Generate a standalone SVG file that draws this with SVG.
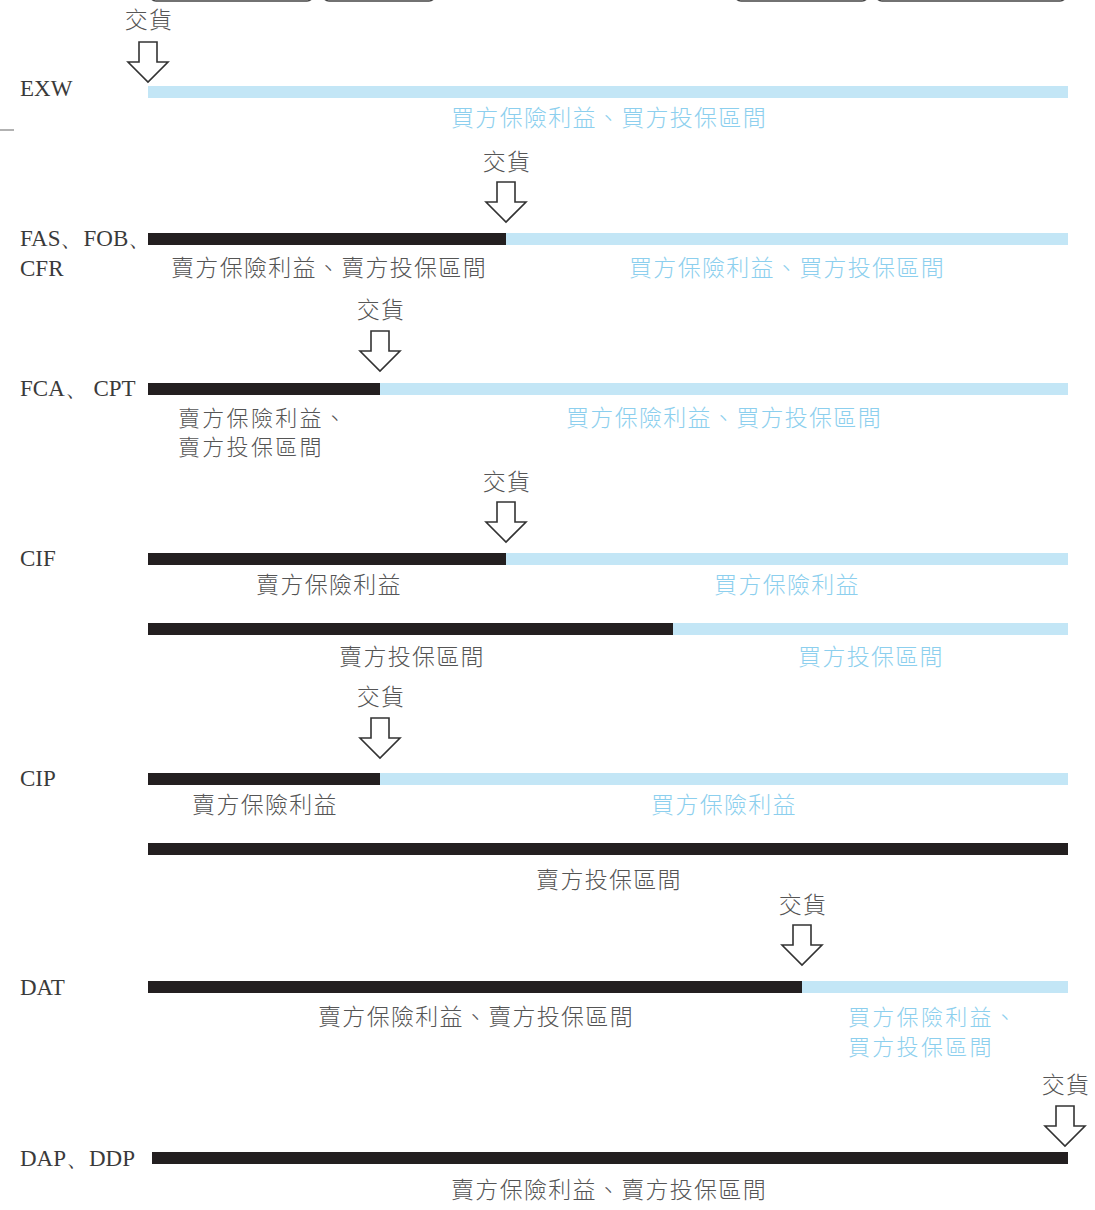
<svg xmlns="http://www.w3.org/2000/svg" width="1095" height="1210" viewBox="0 0 1095 1210">
<style>
.lbl{font-family:"Liberation Serif","Times New Roman",serif;font-size:23px;fill:#3a3a3a}
.cj{font-family:"Noto Sans CJK TC","Noto Sans CJK SC",sans-serif;font-size:23px;letter-spacing:1.3px;fill:#555;font-weight:300}
.two{font-size:22px;letter-spacing:2.3px}
.bl{fill:#8ccfee}
.mid{text-anchor:middle}
.sb{fill:#231f20}
.bb{fill:#c3e6f6}
.arr{fill:#fff;stroke:#333;stroke-width:1.6;stroke-linejoin:miter}
.box{fill:none;stroke:#444;stroke-width:1.6}
</style>
<defs>
<path id="arrow" class="arr" d="M-9,-40 H9 V-20 H20 L0,0 L-20,-20 H-9 Z"/>
</defs>
<g id="header">
<rect class="box" x="150" y="-30" width="163" height="31" rx="6"/>
<rect class="box" x="323" y="-30" width="112" height="31" rx="6"/>
<rect class="box" x="735" y="-30" width="133" height="31" rx="6"/>
<rect class="box" x="876" y="-30" width="190" height="31" rx="6"/>
<line x1="0" y1="130" x2="14" y2="130" stroke="#999" stroke-width="1.5"/>
</g>
<g id="connectors">
<use href="#arrow" x="148" y="82"/>
<use href="#arrow" x="506" y="222"/>
<use href="#arrow" x="380" y="371"/>
<use href="#arrow" x="506" y="542"/>
<use href="#arrow" x="380" y="758"/>
<use href="#arrow" x="802" y="965"/>
<use href="#arrow" x="1065" y="1146"/>
</g>
<g id="exw">
<text class="cj mid" x="149" y="28">交貨</text>
<text class="lbl" x="20" y="96">EXW</text>
<rect class="bb" x="148" y="86" width="920" height="12"/>
<text class="cj bl mid" x="609" y="126">買方保險利益、買方投保區間</text>
</g>
<g id="fas">
<text class="cj mid" x="507" y="170">交貨</text>
<text class="lbl" x="20" y="246">FAS、FOB、</text>
<text class="lbl" x="20" y="276">CFR</text>
<rect class="bb" x="506" y="233" width="562" height="12"/>
<rect class="sb" x="148" y="233" width="358" height="12"/>
<text class="cj mid" x="329" y="276">賣方保險利益、賣方投保區間</text>
<text class="cj bl mid" x="787" y="276">買方保險利益、買方投保區間</text>
</g>
<g id="fca">
<text class="cj mid" x="381" y="318">交貨</text>
<text class="lbl" x="20" y="396">FCA、 CPT</text>
<rect class="bb" x="380" y="383" width="688" height="12"/>
<rect class="sb" x="148" y="383" width="232" height="12"/>
<text class="cj two" x="178" y="426">賣方保險利益、</text>
<text class="cj two" x="178" y="455">賣方投保區間</text>
<text class="cj bl mid" x="724" y="426">買方保險利益、買方投保區間</text>
</g>
<g id="cif">
<text class="cj mid" x="507" y="490">交貨</text>
<text class="lbl" x="20" y="566">CIF</text>
<rect class="bb" x="506" y="553" width="562" height="12"/>
<rect class="sb" x="148" y="553" width="358" height="12"/>
<text class="cj mid" x="329" y="593">賣方保險利益</text>
<text class="cj bl mid" x="787" y="593">買方保險利益</text>
<rect class="bb" x="673" y="623" width="395" height="12"/>
<rect class="sb" x="148" y="623" width="525" height="12"/>
<text class="cj mid" x="412" y="665">賣方投保區間</text>
<text class="cj bl mid" x="871" y="665">買方投保區間</text>
</g>
<g id="cip">
<text class="cj mid" x="381" y="705">交貨</text>
<text class="lbl" x="20" y="786">CIP</text>
<rect class="bb" x="380" y="773" width="688" height="12"/>
<rect class="sb" x="148" y="773" width="232" height="12"/>
<text class="cj mid" x="265" y="813">賣方保險利益</text>
<text class="cj bl mid" x="724" y="813">買方保險利益</text>
<rect class="sb" x="148" y="843" width="920" height="12"/>
<text class="cj mid" x="609" y="888">賣方投保區間</text>
</g>
<g id="dat">
<text class="cj mid" x="803" y="913">交貨</text>
<text class="lbl" x="20" y="995">DAT</text>
<rect class="bb" x="802" y="981" width="266" height="12"/>
<rect class="sb" x="148" y="981" width="654" height="12"/>
<text class="cj mid" x="476" y="1025">賣方保險利益、賣方投保區間</text>
<text class="cj bl two" x="848" y="1025">買方保險利益、</text>
<text class="cj bl two" x="848" y="1055">買方投保區間</text>
</g>
<g id="dap">
<text class="cj mid" x="1066" y="1093">交貨</text>
<text class="lbl" x="20" y="1166">DAP、DDP</text>
<rect class="sb" x="152" y="1152" width="916" height="12"/>
<text class="cj mid" x="609" y="1198">賣方保險利益、賣方投保區間</text>
</g>
</svg>
